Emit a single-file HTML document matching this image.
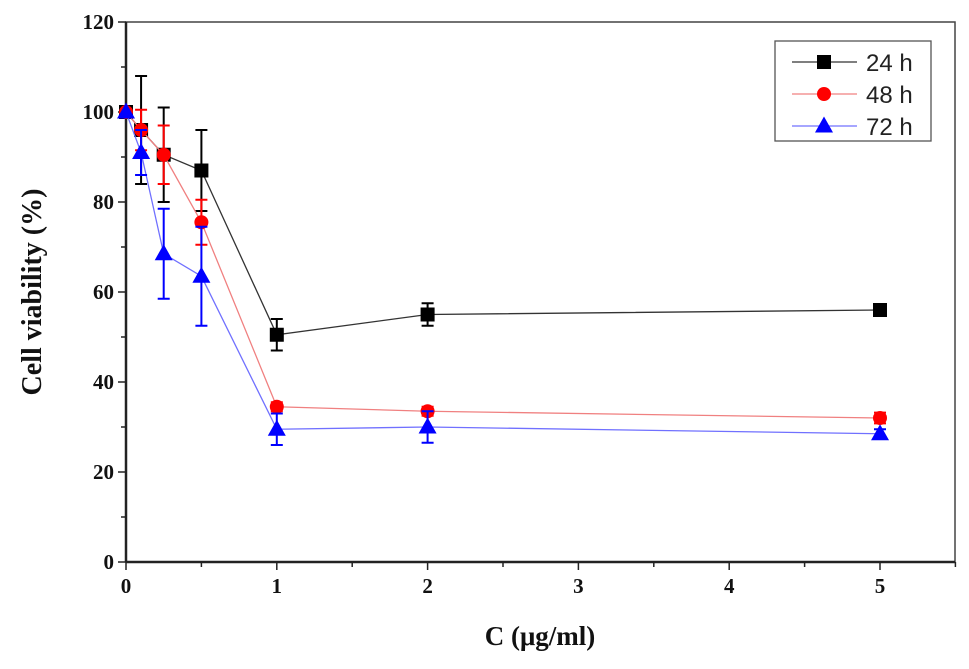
<!DOCTYPE html>
<html><head><meta charset="utf-8"><style>
html,body{margin:0;padding:0;background:#fff;}
svg{display:block;}
</style></head><body>
<svg id="chart" width="969" height="669" xmlns="http://www.w3.org/2000/svg">
<rect x="0" y="0" width="969" height="669" fill="#fff"/>
<g id="axes"></g>
<g id="series"></g>
<g id="legend"></g>
</svg>
<script>
const xValues=[0,0.1,0.25,0.5,1,2,5];
const seriesNames=["24 h","48 h","72 h"];
const v24=[100,96,90.5,87,50.5,55,56];
const e24=[0,12,10.5,9,3.5,2.5,1];
const v48=[100,96,90.5,75.5,34.5,33.5,32];
const e48=[0,4.5,6.5,5,1,1,1.2];
const v72=[100,91,68.5,63.5,29.5,30,28.5];
const e72=[0,5,10,11,3.5,3.5,1];
const xTicks=[0,1,2,3,4,5];
const yTicks=[0,20,40,60,80,100,120];

const NS="http://www.w3.org/2000/svg";
const L=126,R=955,T=22,B=562;
const sx=v=>126+v*150.8;
const sy=v=>B-v*(B-T)/120;
function el(tag,attrs,parent,text){const e=document.createElementNS(NS,tag);for(const k in attrs)e.setAttribute(k,attrs[k]);if(text!==undefined)e.textContent=text;parent.appendChild(e);return e;}
const ax=document.getElementById('axes');
const frame=el('rect',{x:L,y:T,width:R-L,height:B-T,fill:'none',stroke:'#444','stroke-width':1.5},ax);


el('line',{x1:L,y1:T,x2:L,y2:B,stroke:'#222','stroke-width':2.5},ax);
el('line',{x1:L,y1:B,x2:R,y2:B,stroke:'#222','stroke-width':2.5},ax);
const font='"Liberation Serif",serif';
for(let v=0;v<=120;v+=10){
  const y=sy(v);const major=v%20===0;
  el('line',{x1:L,y1:y,x2:L-(major?8:5),y2:y,stroke:'#222','stroke-width':1.5},ax);
}
yTicks.forEach(v=>{
  const t=el('text',{x:L-12,y:sy(v)+7,'text-anchor':'end','font-family':font,'font-weight':'bold','font-size':21,fill:'#111'},ax,String(v));
  
  
});
for(let v=0;v<=5.5;v+=0.5){
  const x=sx(v);const major=Math.abs(v-Math.round(v))<1e-6;
  el('line',{x1:x,y1:B,x2:x,y2:B+(major?8:5),stroke:'#222','stroke-width':1.5},ax);
}
xTicks.forEach(v=>{
  const t=el('text',{x:sx(v),y:B+31,'text-anchor':'middle','font-family':font,'font-weight':'bold','font-size':21,fill:'#111'},ax,String(v));
  
  
});
const xt=el('text',{x:540,y:645,'text-anchor':'middle','font-family':font,'font-weight':'bold','font-size':27,fill:'#111'},ax,'C (μg/ml)');


const yt=el('text',{x:0,y:0,transform:'translate(41,292) rotate(-90)','text-anchor':'middle','font-family':font,'font-weight':'bold','font-size':28,fill:'#111'},ax,'Cell viability (%)');



const sg=document.getElementById('series');
const defs=[
 {vals:v24,errs:e24,line:'#333',col:'#000',mk:'square',name:'series-24h'},
 {vals:v48,errs:e48,line:'#f08080',col:'#f00',mk:'circle',name:'series-48h'},
 {vals:v72,errs:e72,line:'#7070ff',col:'#00f',mk:'triangle',name:'series-72h'}
];
function marker(g,type,x,y,col){
  let m;
  if(type==='square')m=el('rect',{x:x-7,y:y-7,width:14,height:14,fill:col},g);
  else if(type==='circle')m=el('circle',{cx:x,cy:y,r:7,fill:col},g);
  else m=el('polygon',{points:`${x},${y-9.5} ${x-9},${y+6.5} ${x+9},${y+6.5}`,fill:col},g);
  return m;
}
defs.forEach(d=>{
  const g=el('g',{},sg);
  
  
  const pts=xValues.map((x,i)=>sx(x)+','+sy(d.vals[i])).join(' ');
  el('polyline',{points:pts,fill:'none',stroke:d.line,'stroke-width':1.3},g);
  xValues.forEach((x,i)=>{
    const cx=sx(x),e=d.errs[i];
    if(e>0){
      const y1=sy(d.vals[i]+e),y2=sy(d.vals[i]-e);
      const eb=el('path',{d:`M${cx},${y1}V${y2}M${cx-6},${y1}H${cx+6}M${cx-6},${y2}H${cx+6}`,stroke:d.col,'stroke-width':2,fill:'none'},g);
      
      
    }
    const m=marker(g,d.mk,cx,sy(d.vals[i]),d.col);
    
    
  });
});

const lg=document.getElementById('legend');


el('rect',{x:775,y:41,width:156,height:100,fill:'#fff',stroke:'#555','stroke-width':1.3},lg);
seriesNames.forEach((n,i)=>{
  const y=62+i*32,d=defs[i];
  const g=el('g',{},lg);
  
  
  el('line',{x1:792,y1:y,x2:857,y2:y,stroke:d.line,'stroke-width':1.3},g);
  marker(g,d.mk,824,y,d.col);
  el('text',{x:866,y:y+9,'font-family':'"Liberation Sans",sans-serif','font-size':24,fill:'#222'},g,n);
});
</script>
</body></html>
